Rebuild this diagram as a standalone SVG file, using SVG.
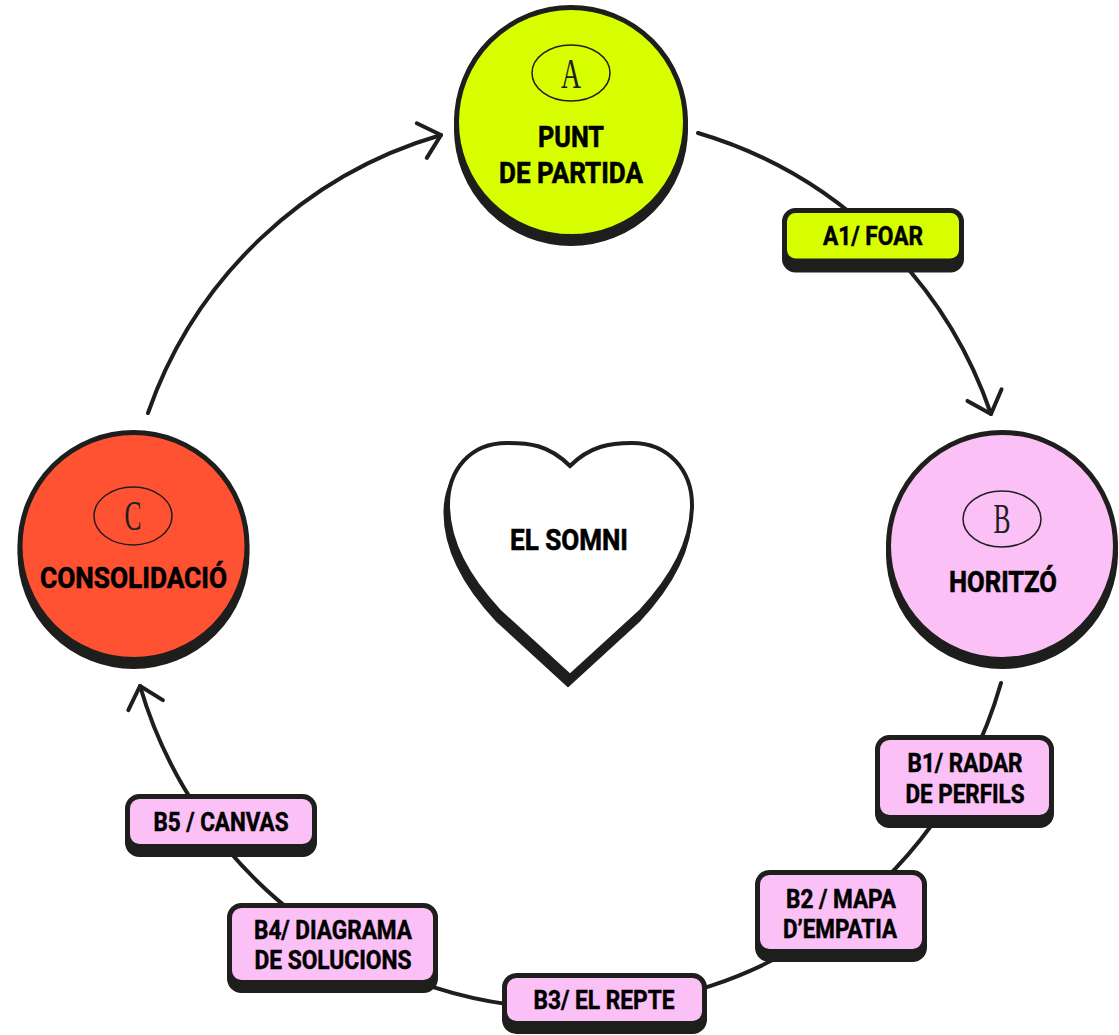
<svg xmlns="http://www.w3.org/2000/svg" width="1119" height="1035" viewBox="0 0 1119 1035">
  <defs>
    <style>
      .line { fill: none; stroke: #1e1e1c; stroke-width: 4; stroke-linecap: round; }
      .shadow { fill: #1e1e1c; stroke: #1e1e1c; stroke-width: 5; }
      .ring { stroke: #1e1e1c; stroke-width: 5; }
      .box { stroke: #1e1e1c; stroke-width: 5; }
      .lime { fill: #d8ff00; }
      .pink { fill: #fbc0f6; }
      .red { fill: #ff5233; }
      .oval { fill: none; stroke: #1e1e1c; stroke-width: 1.5; }
      .letter { font-family: "Liberation Serif", "DejaVu Serif", serif; font-size: 42px; fill: #1e1e1c; text-anchor: middle; }
      .title { font-family: Roboto, "Liberation Sans", sans-serif; font-weight: 700; font-size: 29px; fill: #000; stroke: #000; stroke-width: 0.6; text-anchor: middle; }
      .label { font-family: Roboto, "Liberation Sans", sans-serif; font-weight: 700; font-size: 25px; fill: #000; stroke: #000; stroke-width: 0.5; text-anchor: middle; }
    </style>
    <marker id="arrow" markerUnits="userSpaceOnUse" viewBox="-26 -24 30 48" markerWidth="30" markerHeight="48" refX="0" refY="0" orient="auto" overflow="visible">
      <path d="M-20,-18 L0,0 L-20,18" fill="none" stroke="#1e1e1c" stroke-width="4" stroke-linecap="round" stroke-linejoin="round"/>
    </marker>
  </defs>

  <g id="connectors">
    <path class="line" d="M148,413 A440,440 0 0 1 441,135" marker-end="url(#arrow)"/>
    <path class="line" d="M698,133 A442,442 0 0 1 991,414" marker-end="url(#arrow)"/>
    <path class="line" d="M1001,683 A448,448 0 0 1 140,686" marker-end="url(#arrow)"/>
  </g>

  <g id="node-a">
    <circle class="shadow" cx="571" cy="129" r="114.5"/>
    <circle class="ring lime" cx="571" cy="122" r="114.5"/>
    <ellipse class="oval" cx="571" cy="73" rx="39" ry="28"/>
    <text class="letter" x="571" y="88" textLength="20" lengthAdjust="spacingAndGlyphs">A</text>
    <text class="title" x="571" y="147" textLength="66" lengthAdjust="spacingAndGlyphs">PUNT</text>
    <text class="title" x="571" y="183" textLength="144" lengthAdjust="spacingAndGlyphs">DE PARTIDA</text>
  </g>

  <g id="node-b">
    <circle class="shadow" cx="1002" cy="553" r="113.5"/>
    <circle class="ring pink" cx="1002" cy="546" r="113.5"/>
    <ellipse class="oval" cx="1002" cy="519" rx="39" ry="28"/>
    <text class="letter" x="1002" y="533" textLength="17" lengthAdjust="spacingAndGlyphs">B</text>
    <text class="title" x="1003" y="592" textLength="108" lengthAdjust="spacingAndGlyphs">HORITZÓ</text>
  </g>

  <g id="node-c">
    <circle class="shadow" cx="133.5" cy="553" r="113.5"/>
    <circle class="ring red" cx="133.5" cy="546" r="113.5"/>
    <ellipse class="oval" cx="133" cy="516" rx="39" ry="29"/>
    <text class="letter" x="133" y="530" textLength="17" lengthAdjust="spacingAndGlyphs">C</text>
    <text class="title" x="133.5" y="588" textLength="187" lengthAdjust="spacingAndGlyphs">CONSOLIDACIÓ</text>
  </g>

  <g id="node-somni">
    <path class="shadow" transform="translate(-2,8)" d="M570,466 C548,444 528,443 507,443 C470,443 448,470 448,505 C448,545 470,580 500,612 L570,676 L640,612 C670,580 692,545 692,505 C692,470 668,443 632,443 C610,443 590,446 570,466 Z"/>
    <path d="M570,466 C548,444 528,443 507,443 C470,443 448,470 448,505 C448,545 470,580 500,612 L570,676 L640,612 C670,580 692,545 692,505 C692,470 668,443 632,443 C610,443 590,446 570,466 Z" fill="#ffffff" stroke="#1e1e1c" stroke-width="4" stroke-linejoin="miter"/>
    <text class="title" x="569" y="550" textLength="118" lengthAdjust="spacingAndGlyphs">EL SOMNI</text>
  </g>

  <g id="step-a1">
    <rect class="shadow" x="784.5" y="219.5" width="177" height="50.5" rx="11"/>
    <rect class="box lime" x="784.5" y="210.5" width="177" height="50.5" rx="11"/>
    <text class="label" x="873" y="245" textLength="100" lengthAdjust="spacingAndGlyphs">A1/ FOAR</text>
  </g>

  <g id="step-b1">
    <rect class="shadow" x="877.5" y="745.5" width="174" height="80" rx="12"/>
    <rect class="box pink" x="877.5" y="737.5" width="174" height="80" rx="12"/>
    <text class="label" x="965" y="772" textLength="115" lengthAdjust="spacingAndGlyphs">B1/ RADAR</text>
    <text class="label" x="965" y="803" textLength="119" lengthAdjust="spacingAndGlyphs">DE PERFILS</text>
  </g>

  <g id="step-b2">
    <rect class="shadow" x="757.5" y="880.5" width="167" height="79" rx="12"/>
    <rect class="box pink" x="757.5" y="872.5" width="167" height="79" rx="12"/>
    <text class="label" x="841" y="908" textLength="110" lengthAdjust="spacingAndGlyphs">B2 / MAPA</text>
    <text class="label" x="840" y="938" textLength="114" lengthAdjust="spacingAndGlyphs">D’EMPATIA</text>
  </g>

  <g id="step-b3">
    <rect class="shadow" x="504.5" y="983.5" width="200" height="48" rx="12"/>
    <rect class="box pink" x="504.5" y="975.5" width="200" height="48" rx="12"/>
    <text class="label" x="604" y="1009" textLength="141" lengthAdjust="spacingAndGlyphs">B3/ EL REPTE</text>
  </g>

  <g id="step-b4">
    <rect class="shadow" x="229.5" y="913.5" width="206" height="77" rx="12"/>
    <rect class="box pink" x="229.5" y="905.5" width="206" height="77" rx="12"/>
    <text class="label" x="333" y="939" textLength="158" lengthAdjust="spacingAndGlyphs">B4/ DIAGRAMA</text>
    <text class="label" x="333" y="969" textLength="157" lengthAdjust="spacingAndGlyphs">DE SOLUCIONS</text>
  </g>

  <g id="step-b5">
    <rect class="shadow" x="127.5" y="804.5" width="187" height="50" rx="12"/>
    <rect class="box pink" x="127.5" y="796.5" width="187" height="50" rx="12"/>
    <text class="label" x="221" y="831" textLength="135" lengthAdjust="spacingAndGlyphs">B5 / CANVAS</text>
  </g>
</svg>
